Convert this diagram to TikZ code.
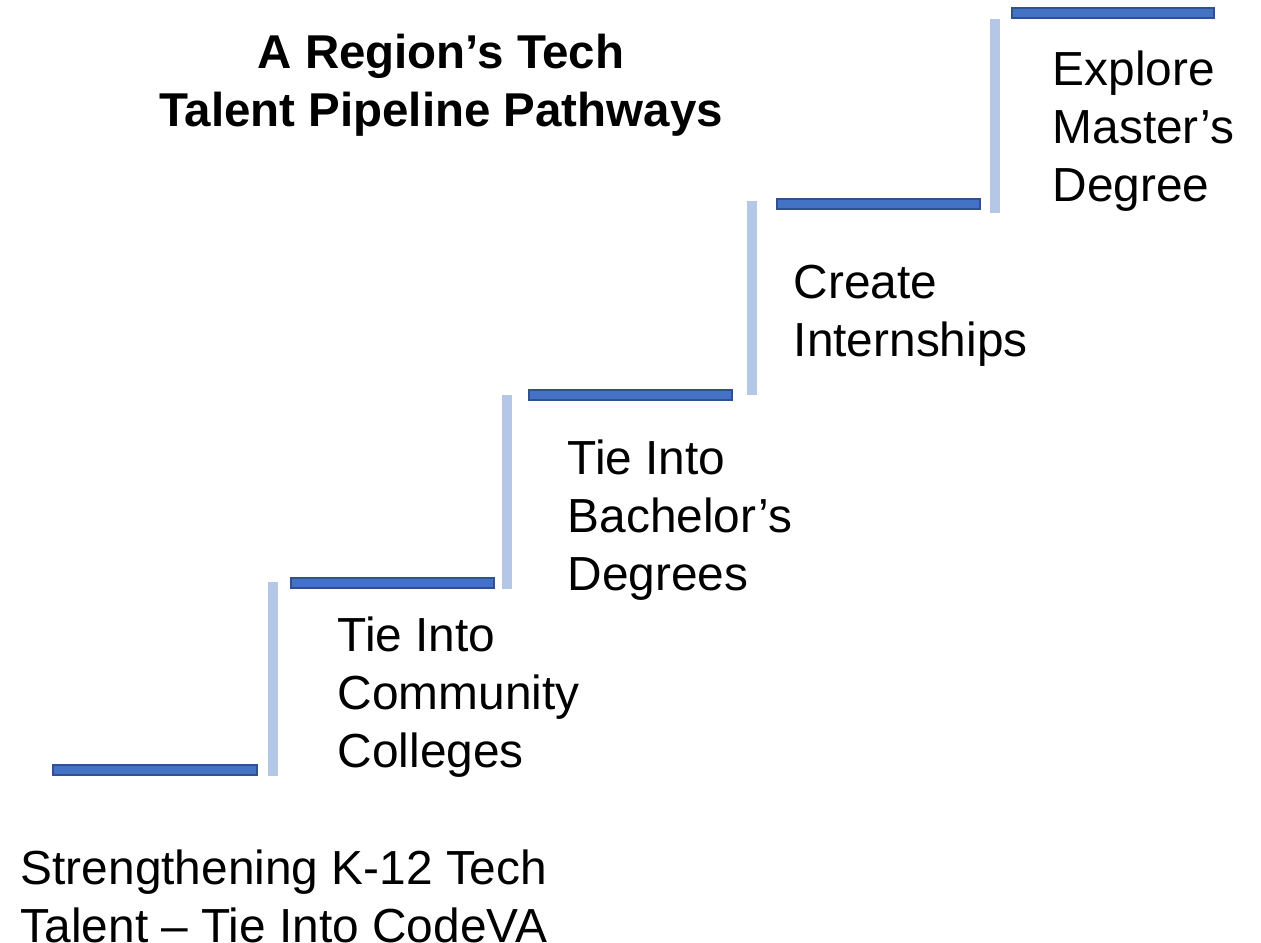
\documentclass[tikz,border=0pt]{standalone}
\usepackage{fontspec}
\setmainfont{Liberation Sans}
\usepackage{xcolor}
\usepackage{tikz}
\definecolor{stepblue}{HTML}{4472C4}
\definecolor{stepedge}{HTML}{2F528F}
\definecolor{riserblue}{HTML}{B4C7E7}
\tikzset{
  stepbar/.style={fill=stepblue, draw=stepedge, line width=0.6pt},
  riser/.style={fill=riserblue},
  lab/.style={font=\fontsize{13.6}{16.4}\selectfont, align=left, anchor=base west, inner sep=0pt},
  ttl/.style={font=\fontsize{13.5}{16.4}\selectfont\bfseries, align=center, anchor=base, inner sep=0pt}
}
\begin{document}
\begin{tikzpicture}[x=0.01cm, y=-0.01cm]
  \useasboundingbox (0,0) rectangle (1261,942);

  % treads
  \draw[stepbar] (53,765) rectangle (257,775);
  \draw[stepbar] (291,578) rectangle (494,588);
  \draw[stepbar] (529,390) rectangle (732,400);
  \draw[stepbar] (777,199) rectangle (980,209);
  \draw[stepbar] (1012,8) rectangle (1214,18);

  % risers
  \fill[riser] (268,582) rectangle (278,776);
  \fill[riser] (502,395) rectangle (512,589);
  \fill[riser] (747,201) rectangle (757,395);
  \fill[riser] (990,19) rectangle (1000,213);

  % labels (anchored at the last line)
  \node[ttl] (title) at (441,126) {A Region’s Tech\\Talent Pipeline Pathways};

  \node[lab] (k12) at (20,942) {Strengthening K-12 Tech\\Talent – Tie Into CodeVA};
  \node[lab] (cc) at (337,767) {Tie Into\\Community\\Colleges};
  \node[lab] (ba) at (567,590) {Tie Into\\Bachelor’s\\Degrees};
  \node[lab] (intern) at (793,356) {Create\\Internships};
  \node[lab] (ms) at (1052,201) {Explore\\Master’s\\Degree};
\end{tikzpicture}
\end{document}
